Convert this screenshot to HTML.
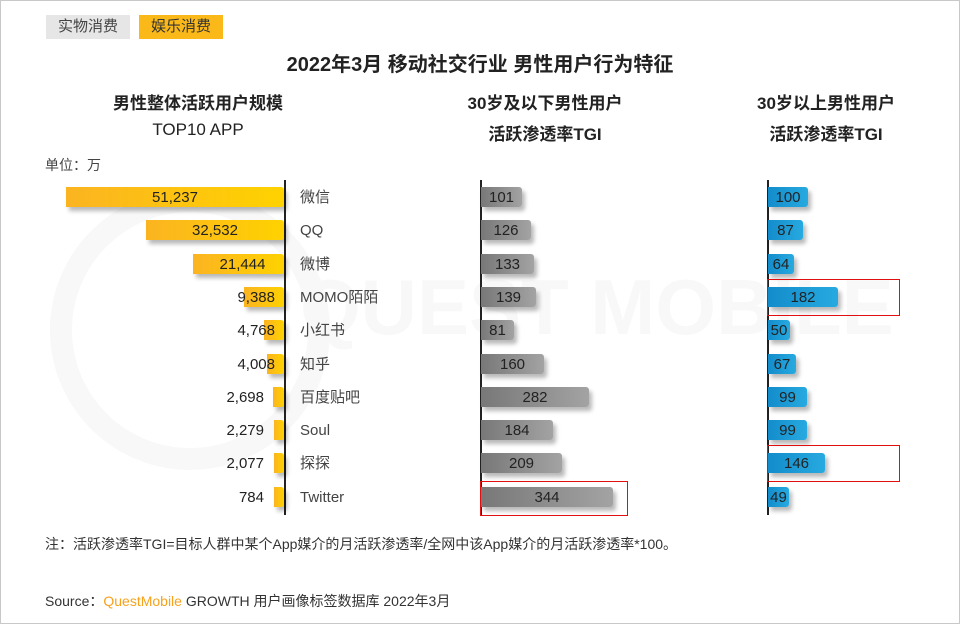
<!DOCTYPE html>
<html><head><meta charset="utf-8"><style>
*{margin:0;padding:0;box-sizing:border-box}
body{width:960px;height:624px;background:#fff;font-family:"Liberation Sans","Noto Sans CJK SC",sans-serif;color:#222;position:relative;overflow:hidden}
.frame{position:absolute;left:0;top:0;width:960px;height:624px;border:1px solid #c8c8c8}
.a{position:absolute;white-space:nowrap}
.tab{position:absolute;top:15px;height:24px;width:84px;font-size:15px;line-height:24px;text-align:center;color:#444}
.h{font-size:17px;font-weight:bold;text-align:center;color:#222}
.bar{position:absolute;height:20px;border-radius:0 3px 3px 0;box-shadow:3px 4px 4px rgba(0,0,0,.28);font-size:15px;line-height:22px;text-align:center;color:#222}
.y{background:linear-gradient(90deg,#fbb421,#ffd200)}
.g{background:linear-gradient(90deg,#787878,#a3a3a3)}
.b{background:linear-gradient(90deg,#138ccb,#27aae0)}
.lab{position:absolute;font-size:15px;line-height:22px;color:#444}
.num{position:absolute;font-size:15px;line-height:22px;text-align:right;width:60px;color:#222}
.ax{position:absolute;width:1.5px;background:#222}
.red{position:absolute;border:1.5px solid #e01010}
</style></head><body>
<div class="frame"></div>
<div class="a" style="left:50px;top:190px;width:280px;height:280px;border-radius:50%;border:22px solid #f8f8f8"></div>
<div class="a" style="left:300px;top:262px;width:615px;font-size:78px;font-weight:bold;color:#f8f8f8;overflow:hidden;line-height:90px">QUEST MOBILE</div>

<div class="tab" style="left:46px;background:#e6e6e6">实物消费</div>
<div class="tab" style="left:139px;background:#fbb919;color:#333">娱乐消费</div>
<div class="a" style="left:0;width:960px;top:48px;text-align:center;font-size:20px;font-weight:bold;color:#222">2022年3月 移动社交行业 男性用户行为特征</div>

<div class="a h" style="left:78px;width:240px;top:89px">男性整体活跃用户规模</div>
<div class="a h" style="left:78px;width:240px;top:120px;font-weight:normal">TOP10 APP</div>
<div class="a h" style="left:425px;width:240px;top:89px">30岁及以下男性用户</div>
<div class="a h" style="left:425px;width:240px;top:120px">活跃渗透率TGI</div>
<div class="a h" style="left:706px;width:240px;top:89px">30岁以上男性用户</div>
<div class="a h" style="left:706px;width:240px;top:120px">活跃渗透率TGI</div>
<div class="a" style="left:45px;top:155px;font-size:14px;color:#444">单位：万</div>

<div class="ax" style="left:284px;top:180px;height:335px"></div>
<div class="ax" style="left:480px;top:180px;height:335px"></div>
<div class="ax" style="left:767px;top:180px;height:335px"></div>

<div class="bar y" style="left:66px;width:218px;top:187px">51,237</div>
<div class="bar y" style="left:146px;width:138px;top:220px">32,532</div>
<div class="bar y" style="left:193px;width:91px;top:254px;padding-left:8px">21,444</div>
<div class="bar y" style="left:244px;width:40px;top:287px"></div><div class="num" style="left:215px;top:287px">9,388</div>
<div class="bar y" style="left:264px;width:20px;top:320px"></div><div class="num" style="left:215px;top:320px">4,768</div>
<div class="bar y" style="left:267px;width:17px;top:354px"></div><div class="num" style="left:215px;top:354px">4,008</div>
<div class="bar y" style="left:273px;width:11px;top:387px"></div><div class="num" style="left:204px;top:387px">2,698</div>
<div class="bar y" style="left:274px;width:10px;top:420px"></div><div class="num" style="left:204px;top:420px">2,279</div>
<div class="bar y" style="left:274px;width:10px;top:453px"></div><div class="num" style="left:204px;top:453px">2,077</div>
<div class="bar y" style="left:274px;width:10px;top:487px"></div><div class="num" style="left:204px;top:487px">784</div>

<div class="lab" style="left:300px;top:187px">微信</div>
<div class="lab" style="left:300px;top:220px">QQ</div>
<div class="lab" style="left:300px;top:254px">微博</div>
<div class="lab" style="left:300px;top:287px">MOMO陌陌</div>
<div class="lab" style="left:300px;top:320px">小红书</div>
<div class="lab" style="left:300px;top:354px">知乎</div>
<div class="lab" style="left:300px;top:387px">百度贴吧</div>
<div class="lab" style="left:300px;top:420px">Soul</div>
<div class="lab" style="left:300px;top:453px">探探</div>
<div class="lab" style="left:300px;top:487px">Twitter</div>

<div class="bar g" style="left:481px;width:41px;top:187px">101</div>
<div class="bar g" style="left:481px;width:50px;top:220px">126</div>
<div class="bar g" style="left:481px;width:53px;top:254px">133</div>
<div class="bar g" style="left:481px;width:55px;top:287px">139</div>
<div class="bar g" style="left:481px;width:33px;top:320px">81</div>
<div class="bar g" style="left:481px;width:63px;top:354px">160</div>
<div class="bar g" style="left:481px;width:108px;top:387px">282</div>
<div class="bar g" style="left:481px;width:72px;top:420px">184</div>
<div class="bar g" style="left:481px;width:81px;top:453px">209</div>
<div class="bar g" style="left:481px;width:132px;top:487px">344</div>
<div class="red" style="left:480px;top:481px;width:148px;height:35px"></div>

<div class="bar b" style="left:768px;width:40px;top:187px">100</div>
<div class="bar b" style="left:768px;width:35px;top:220px">87</div>
<div class="bar b" style="left:768px;width:26px;top:254px">64</div>
<div class="bar b" style="left:768px;width:70px;top:287px">182</div>
<div class="bar b" style="left:768px;width:22px;top:320px">50</div>
<div class="bar b" style="left:768px;width:28px;top:354px">67</div>
<div class="bar b" style="left:768px;width:39px;top:387px">99</div>
<div class="bar b" style="left:768px;width:39px;top:420px">99</div>
<div class="bar b" style="left:768px;width:57px;top:453px">146</div>
<div class="bar b" style="left:768px;width:21px;top:487px">49</div>
<div class="red" style="left:767px;top:279px;width:133px;height:37px"></div>
<div class="red" style="left:767px;top:445px;width:133px;height:37px"></div>

<div class="a" style="left:45px;top:534px;font-size:14px;color:#333">注：活跃渗透率TGI=目标人群中某个App媒介的月活跃渗透率/全网中该App媒介的月活跃渗透率*100。</div>
<div class="a" style="left:45px;top:591px;font-size:14px;color:#333">Source：<span style="color:#f7a21b">QuestMobile</span> GROWTH 用户画像标签数据库 2022年3月</div>
</body></html>
